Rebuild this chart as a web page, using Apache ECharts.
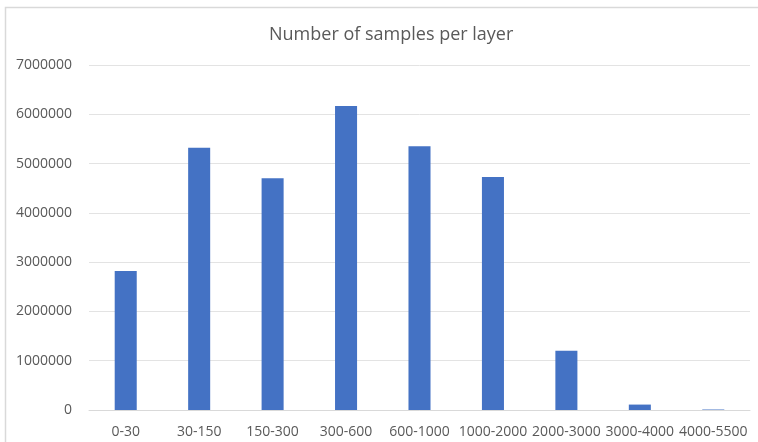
<!DOCTYPE html>
<html>
<head>
<meta charset="utf-8">
<script src="https://cdn.jsdelivr.net/npm/echarts@6/dist/echarts.min.js"></script>
<style>
  html, body { margin: 0; padding: 0; background: #fff; }
  #main { width: 758px; height: 442px; }
</style>
</head>
<body>
<div id="main"></div>
<script>
var categories = ['0-30', '30-150', '150-300', '300-600', '600-1000', '1000-2000', '2000-3000', '3000-4000', '4000-5500'];
var samples = [2820000, 5320000, 4700000, 6170000, 5350000, 4730000, 1200000, 110000, 10000];

var textColor = '#595959';
var chart = echarts.init(document.getElementById('main'));

var option = {
    animation: false,
    // light frame of the chart area (top and left edges visible)
    graphic: [{
        type: 'rect',
        shape: { x: 5.5, y: 7.5, width: 800, height: 500 },
        style: { fill: 'none', stroke: '#d9d9d9', lineWidth: 1.5 },
        silent: true
    }],
    title: {
        text: 'Number of samples per layer',
        left: 264,
        top: 21,
        textStyle: { color: textColor, fontFamily: 'Open Sans', fontSize: 18, fontWeight: 'normal' }
    },
    grid: {
        left: 89,
        right: 8,
        top: 65,
        bottom: 32,
        containLabel: false
    },
    xAxis: {
        type: 'category',
        data: categories,
        axisTick: { show: false },
        axisLine: { lineStyle: { color: '#d9d9d9', width: 1 } },
        axisLabel: { color: textColor, fontFamily: 'Open Sans', fontSize: 14, margin: 15, interval: 0 }
    },
    yAxis: {
        type: 'value',
        min: 0,
        max: 7000000,
        interval: 1000000,
        axisLine: { show: false },
        axisTick: { show: false },
        splitLine: { lineStyle: { color: '#e3e3e3', width: 1 } },
        axisLabel: {
            color: textColor, fontFamily: 'Open Sans', fontSize: 14, margin: 17,
            formatter: function (v) { return String(v); }
        }
    },
    series: [{
        name: 'samples',
        type: 'bar',
        barWidth: '30%',
        data: samples,
        itemStyle: { color: '#4472c4' }
    }]
};

chart.setOption(option);
</script>
</body>
</html>
